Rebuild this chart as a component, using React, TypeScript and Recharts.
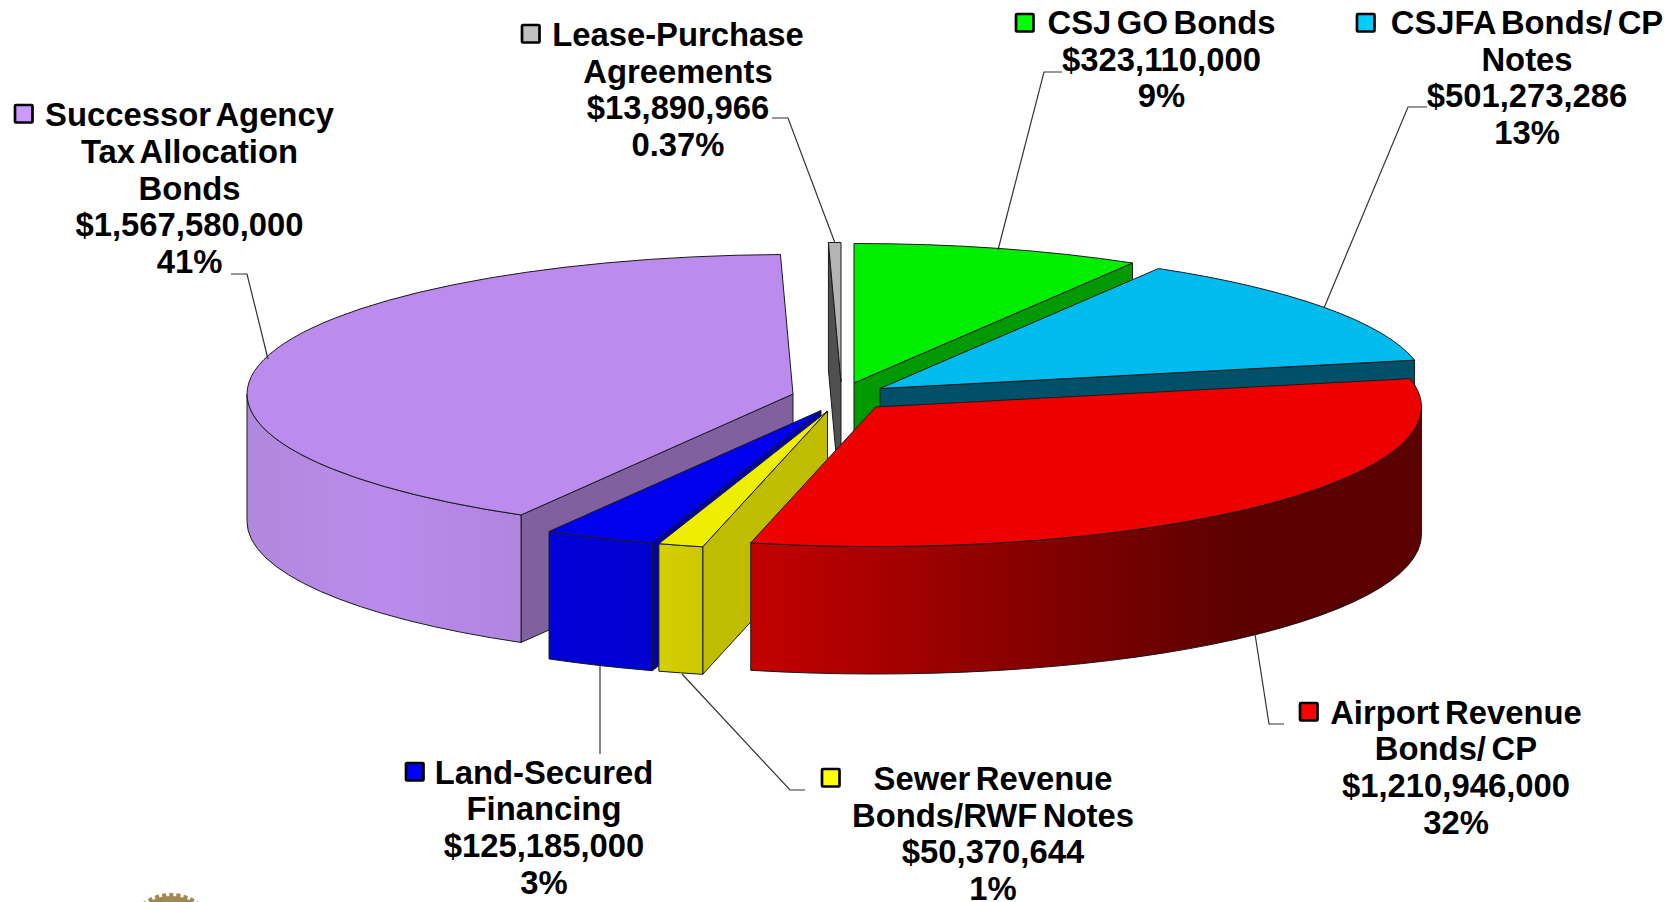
import React from "react";
import { PieChart, Pie } from "recharts";

const WIDTH = 1679;
const HEIGHT = 902;
const FONT = "'Liberation Sans', Arial, sans-serif";

// Data, clockwise from 12 o'clock
const categories = ["CSJ GO Bonds", "CSJFA Bonds/ CP Notes", "Airport Revenue Bonds/ CP", "Sewer Revenue Bonds/RWF Notes", "Land-Secured Financing", "Successor Agency Tax Allocation Bonds", "Lease-Purchase Agreements"];
const amounts = [323110000, 501273286, 1210946000, 50370644, 125185000, 1567580000, 13890966];
const amountLabels = ["$323,110,000", "$501,273,286", "$1,210,946,000", "$50,370,644", "$125,185,000", "$1,567,580,000", "$13,890,966"];
const percentLabels = ["9%", "13%", "32%", "1%", "3%", "41%", "0.37%"];
const nameLines = [
  ["CSJ GO Bonds"],
  ["CSJFA Bonds/ CP", "Notes"],
  ["Airport Revenue", "Bonds/ CP"],
  ["Sewer Revenue", "Bonds/RWF Notes"],
  ["Land-Secured", "Financing"],
  ["Successor Agency", "Tax Allocation", "Bonds"],
  ["Lease-Purchase", "Agreements"],
];

// Styles, same order
const topColors = ["#00EE00", "#00BBEE", "#EE0000", "#EEEE00", "#0000EE", "#BB8CEE", "#B4B4B4"];
const wallColors = ["#009A00", "#005069", "#8A0000", "#C0BC00", "#0000B0", "#80609F", "#505050"];
const outerStops = [
  ["#00C000", "#00B000", "#00A000"],
  ["#0098C0", "#0088A8", "#007898"],
  ["#C40000", "#8C0000", "#5A0000"],
  ["#D4CF00", "#D0CC00", "#CCC800"],
  ["#0000D8", "#0000D4", "#0000D0"],
  ["#B088DC", "#BA8BEB", "#B085E0"],
  ["#A0A0A0", "#909090", "#808080"],
];
const keyColors = ["#00FF00", "#00CCFF", "#FF0000", "#FFFF00", "#0000FF", "#CC99FF", "#C0C0C0"];

// Layout: how far each slice is pulled out of the pie (px)
const explode = [[18, -13], [44, -7.5], [39.5, 11], [-8.5, 15], [-15, 14.5], [-43, -2], [5, -14]];
// Layout: label centre x, first-line y centre, legend key left/top, leader polyline
const labelCenterX = [1161.5, 1527, 1456, 993, 544, 189.5, 678];
const labelFirstY = [22.5, 22.5, 712, 778.5, 772, 114.6, 34.3];
const keyBoxes = [[1016, 14], [1357, 14], [1300, 703], [822, 769], [406, 763], [15, 105], [522, 25]];
const leaders = [
  "1062,72 1044,72 998,250",
  "1427,107 1408,107 1324,308",
  "1284,724 1269,724 1255,634",
  "805,790 790,790 682,674",
  "600,754 600,666",
  "231,274 247,274 268,359",
  "772,118 788,118 835,243",
];

const CX = 836;
const CY = 396;
const RX = 546;
const RY = 139.5;
const DEPTH = 127.5;
const LINE = 36.7;

const rows = categories.map((name, i) => ({ name, value: amounts[i], index: i }));
const reversedRows = [...rows].reverse();

const rad = (d: number) => (d * Math.PI) / 180;

function Slice3D(props: any, visible: number[]) {
  const i = props.payload?.index ?? props.index;
  if (!visible.includes(i)) return <g />;
  const { cx, cy, outerRadius, startAngle, endAngle } = props;
  const ry = outerRadius * (RY / RX);
  const a = 90 - Math.max(startAngle, endAngle);
  const b = 90 - Math.min(startAngle, endAngle);
  const shift = a < 0 ? 360 : 0;
  const t0 = a + shift;
  const t1 = b + shift;
  const ax = cx + explode[i][0];
  const ay = cy + explode[i][1];
  const P = (t: number, d = 0) => `${(ax + outerRadius * Math.sin(rad(t))).toFixed(2)} ${(ay - ry * Math.cos(rad(t)) + d).toFixed(2)}`;
  const arc = (from: number, to: number, d = 0, sweep = 1) =>
    `A ${outerRadius} ${ry} 0 ${Math.abs(to - from) > 180 ? 1 : 0} ${sweep} ${P(to, d)}`;
  const edge = "#1a1a1a";
  const gid = `outer-${i}`;
  const oa = Math.max(t0, 90);
  const ob = Math.min(t1, 270);
  const wall = (t: number) => (
    <path
      d={`M ${ax} ${ay} L ${P(t)} L ${P(t, DEPTH)} L ${ax} ${ay + DEPTH} Z`}
      fill={wallColors[i]}
      stroke={edge}
      strokeWidth={1}
      strokeLinejoin="round"
    />
  );
  const x0 = ax + outerRadius * Math.sin(rad(oa));
  const x1 = ax + outerRadius * Math.sin(rad(ob));
  return (
    <g>
      <defs>
        <linearGradient id={gid} gradientUnits="userSpaceOnUse" x1={Math.min(x0, x1, ax + (i === 2 ? -125 : 0))} x2={i === 2 ? ax + 380 : Math.max(x0, x1)} y1={0} y2={0}>
          <stop offset="0" stopColor={outerStops[i][0]} />
          <stop offset="0.5" stopColor={outerStops[i][1]} />
          <stop offset="1" stopColor={outerStops[i][2]} />
        </linearGradient>
      </defs>
      {Math.sin(rad(t0)) < -0.001 ? wall(t0) : null}
      {Math.sin(rad(t1)) > 0.001 ? wall(t1) : null}
      {ob > oa ? (
        <path
          d={`M ${P(oa)} ${arc(oa, ob)} L ${P(ob, DEPTH)} ${arc(ob, oa, DEPTH, 0)} Z`}
          fill={`url(#${gid})`}
          stroke={edge}
          strokeWidth={1}
          strokeLinejoin="round"
        />
      ) : null}
      <path
        d={`M ${ax} ${ay} L ${P(t0)} ${arc(t0, t1)} Z`}
        fill={topColors[i]}
        stroke={edge}
        strokeWidth={1}
        strokeLinejoin="round"
      />
    </g>
  );
}

function SliceLabel(props: any) {
  const i = props.payload?.index ?? props.index;
  const lines = [...nameLines[i], amountLabels[i], percentLabels[i]];
  return (
    <g>
      <polyline points={leaders[i]} fill="none" stroke="#333" strokeWidth={1.2} />
      <rect x={keyBoxes[i][0]} y={keyBoxes[i][1]} width={17.5} height={17.5} rx={1} fill={keyColors[i]} stroke="#000" strokeWidth={2.7} />
      {lines.map((line, k) => (
        <text
          key={k}
          x={labelCenterX[i]}
          y={labelFirstY[i] + k * LINE + 11.5}
          textAnchor="middle"
          fontFamily={FONT}
          fontWeight={700}
          fontSize={32.8}
          wordSpacing={-3.5}
          fill="#000"
        >
          {line}
        </text>
      ))}
    </g>
  );
}

const backSlices = [0, 1, 6];
const frontSlices = [5, 4, 3, 2];

export default function App() {
  return (
    <div style={{ position: "absolute", left: 0, top: 0, width: WIDTH, height: HEIGHT, background: "#fff", overflow: "hidden" }}>
      <PieChart width={WIDTH} height={HEIGHT} margin={{ top: 0, right: 0, bottom: 0, left: 0 }}>
        <circle cx={171} cy={941} r={45} fill="#A08850" stroke="#A08850" strokeWidth={6} strokeDasharray="4 3" />
        <Pie
          data={rows}
          dataKey="value"
          nameKey="name"
          cx={CX}
          cy={CY}
          innerRadius={0}
          outerRadius={RX}
          startAngle={90}
          endAngle={-270}
          isAnimationActive={false}
          label={false}
          labelLine={false}
          shape={(p: any) => Slice3D(p, backSlices)}
        />
        <Pie
          data={reversedRows}
          dataKey="value"
          nameKey="name"
          cx={CX}
          cy={CY}
          innerRadius={0}
          outerRadius={RX}
          startAngle={90}
          endAngle={450}
          isAnimationActive={false}
          label={SliceLabel}
          labelLine={false}
          shape={(p: any) => Slice3D(p, frontSlices)}
        />
      </PieChart>
    </div>
  );
}
